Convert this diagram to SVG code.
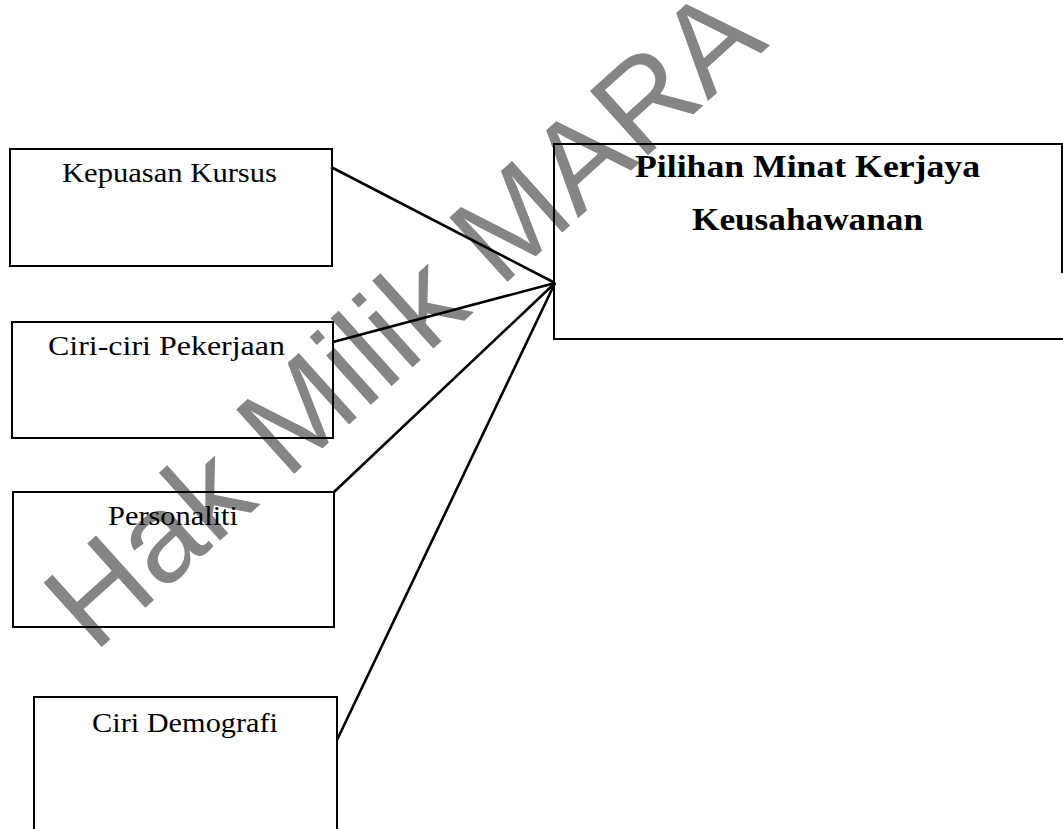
<svg xmlns="http://www.w3.org/2000/svg" width="1063" height="829" viewBox="0 0 1063 829">
<style>
.box{fill:none;stroke:#000;stroke-width:2}
.lbl{font-family:"Liberation Serif","Times New Roman",serif;font-size:28px;fill:#000}
.ttl{font-family:"Liberation Serif","Times New Roman",serif;font-size:31px;font-weight:bold;fill:#000}
.con{stroke:#000;stroke-width:2.6;fill:none}
.wm{font-family:"Liberation Sans",Arial,sans-serif;font-size:126px;fill:#858585}
</style>
<rect width="1063" height="829" fill="#fff"/>
<text class="wm" x="0" y="0" transform="translate(94,654) rotate(-42)">Hak Milik MARA</text>
<g id="connectors">
<line class="con" x1="331" y1="167" x2="555" y2="283"/>
<line class="con" x1="333" y1="342" x2="555" y2="283"/>
<line class="con" x1="334" y1="492" x2="555" y2="283"/>
<line class="con" x1="337" y1="740" x2="555" y2="283"/>
</g>
<g id="kepuasan">
<rect class="box" x="10" y="149" width="322" height="117"/>
<text class="lbl" x="62" y="182" textLength="215" lengthAdjust="spacingAndGlyphs">Kepuasan Kursus</text>
</g>
<g id="ciri-pekerjaan">
<rect class="box" x="12" y="322" width="321" height="116"/>
<text class="lbl" x="48" y="355" textLength="237" lengthAdjust="spacingAndGlyphs">Ciri-ciri Pekerjaan</text>
</g>
<g id="personaliti">
<rect class="box" x="13" y="492" width="321" height="135"/>
<text class="lbl" x="108" y="525" textLength="130" lengthAdjust="spacingAndGlyphs">Personaliti</text>
</g>
<g id="demografi">
<path class="box" d="M34,829 V697 H337 V829"/>
<text class="lbl" x="92" y="732" textLength="186" lengthAdjust="spacingAndGlyphs">Ciri Demografi</text>
</g>
<g id="pilihan">
<path class="box" d="M1062,273 V144 H554 V339 H1063"/>
<text class="ttl" x="635" y="177" textLength="345" lengthAdjust="spacingAndGlyphs">Pilihan Minat Kerjaya</text>
<text class="ttl" x="692" y="230" textLength="231" lengthAdjust="spacingAndGlyphs">Keusahawanan</text>
</g>
</svg>
